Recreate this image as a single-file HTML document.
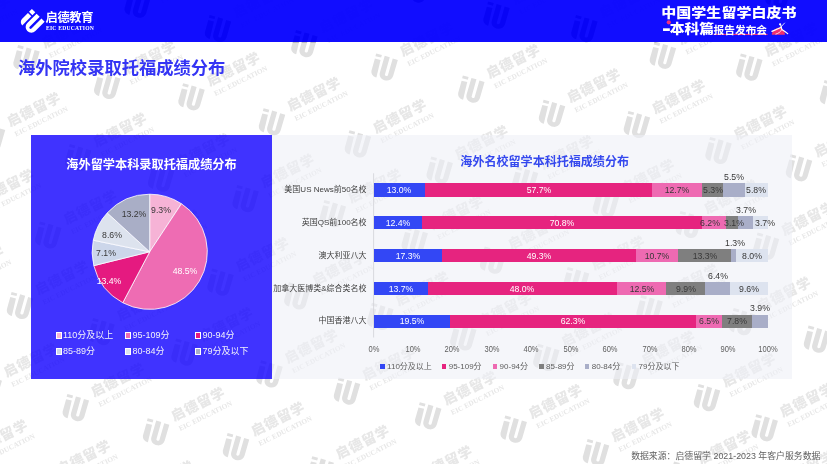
<!DOCTYPE html>
<html lang="zh-CN"><head><meta charset="utf-8"><title>海外院校录取托福成绩分布</title>
<style>
html,body{margin:0;padding:0;background:#fff;}
body{width:827px;height:464px;position:relative;overflow:hidden;font-family:"Liberation Sans","Noto Sans CJK SC",sans-serif;}
.abs{position:absolute;white-space:nowrap;}
#hdr{left:0;top:0;width:827px;height:42.3px;background:rgba(4,0,255,0.95);}
#title{left:18px;top:56px;font-size:17.3px;line-height:24px;font-weight:bold;color:#3434f4;letter-spacing:0px;}
#pL{left:31px;top:135px;width:240.7px;height:243.5px;background:rgba(16,0,255,0.8);}
#pR{left:271.7px;top:135px;width:520px;height:243.5px;background:rgba(238,239,246,0.58);}
.t12{font-size:12.18px;line-height:16px;font-weight:bold;text-align:center;}
.lab{font-size:9.7px;line-height:12px;color:#383838;text-align:center;transform:translate(-50%,-50%) scaleX(0.9);}
.cat{font-size:8px;line-height:12px;color:#404040;text-align:right;right:460.4px;transform:translateY(-50%);}
.ax{font-size:8.4px;line-height:10px;color:#5e5e5e;transform:translate(-50%,-50%) scaleX(0.9);}
.lg{font-size:8px;line-height:10px;color:#5e5e5e;transform:translateY(-50%);}
.lgp{font-size:9px;line-height:12px;color:#f2f2fa;transform:translateY(-50%);}
.seg{position:absolute;height:13.4px;}
svg{position:absolute;left:0;top:0;}
</style></head><body>

<svg width="827" height="464" viewBox="0 0 827 464" style="pointer-events:none">
<style>.wc{font-family:"Liberation Sans","Noto Sans CJK SC",sans-serif;font-weight:900;font-size:13.8px;letter-spacing:0.9px;fill:#e7e7e7}.hd,.hd text{fill:#5a5a5a}.we{font-family:"Liberation Serif",serif;font-weight:bold;font-size:7.2px;letter-spacing:0.05px;fill:#e7e7e7}</style>
<defs><g id="wm"><g transform="scale(0.06464) translate(-220,-242)">
<path d="M90,35L178,58L166,100L78,77Z"/>
<path d="M70,115L157,135L93,408C55,400 5,365 18,300Z"/>
<path d="M222,72L300,94L224,365Q238,398 270,375L346,112L425,135L352,385C335,440 285,460 240,455C170,445 130,390 147,330Z"/>
</g><g transform="rotate(-26.5)">
<text class="wc" x="20.5" y="-1.0">启德留学</text>
<text class="we" x="21.8" y="10.3">EIC EDUCATION</text>
</g></g></defs>
<g fill="#e0e0e0">
<use href="#wm" x="-58.1" y="39.8"/>
<use href="#wm" x="54.7" y="-16.4"/>
<use href="#wm" x="26.5" y="58.5"/>
<use href="#wm" x="137.7" y="4.1"/>
<use href="#wm" x="-8.0" y="137.0"/>
<use href="#wm" x="107.2" y="85.3"/>
<use href="#wm" x="218.0" y="28.3"/>
<use href="#wm" x="-34.7" y="213.7"/>
<use href="#wm" x="78.1" y="157.5"/>
<use href="#wm" x="191.5" y="96.6"/>
<use href="#wm" x="304.4" y="43.4"/>
<use href="#wm" x="416.5" y="-11.1"/>
<use href="#wm" x="-64.5" y="290.4"/>
<use href="#wm" x="48.3" y="234.8"/>
<use href="#wm" x="161.1" y="178.0"/>
<use href="#wm" x="272.0" y="121.6"/>
<use href="#wm" x="384.6" y="66.8"/>
<use href="#wm" x="496.5" y="15.0"/>
<use href="#wm" x="20.0" y="305.3"/>
<use href="#wm" x="131.3" y="254.7"/>
<use href="#wm" x="245.6" y="198.4"/>
<use href="#wm" x="357.9" y="143.7"/>
<use href="#wm" x="471.3" y="88.9"/>
<use href="#wm" x="584.4" y="28.4"/>
<use href="#wm" x="695.3" y="-26.3"/>
<use href="#wm" x="-11.3" y="387.6"/>
<use href="#wm" x="101.5" y="331.4"/>
<use href="#wm" x="220.5" y="282.0"/>
<use href="#wm" x="332.8" y="213.5"/>
<use href="#wm" x="439.7" y="170.0"/>
<use href="#wm" x="552.0" y="113.1"/>
<use href="#wm" x="662.9" y="55.1"/>
<use href="#wm" x="778.3" y="-5.8"/>
<use href="#wm" x="-41.1" y="464.3"/>
<use href="#wm" x="75.8" y="407.4"/>
<use href="#wm" x="184.5" y="351.9"/>
<use href="#wm" x="297.3" y="295.7"/>
<use href="#wm" x="414.7" y="240.2"/>
<use href="#wm" x="525.0" y="180.0"/>
<use href="#wm" x="636.9" y="124.3"/>
<use href="#wm" x="749.3" y="66.9"/>
<use href="#wm" x="41.9" y="484.8"/>
<use href="#wm" x="156.1" y="431.6"/>
<use href="#wm" x="269.5" y="373.7"/>
<use href="#wm" x="380.3" y="316.2"/>
<use href="#wm" x="493.1" y="260.0"/>
<use href="#wm" x="605.9" y="203.8"/>
<use href="#wm" x="718.5" y="150.3"/>
<use href="#wm" x="833.0" y="93.5"/>
<use href="#wm" x="124.9" y="505.3"/>
<use href="#wm" x="236.0" y="446.5"/>
<use href="#wm" x="347.0" y="390.9"/>
<use href="#wm" x="463.3" y="336.7"/>
<use href="#wm" x="576.1" y="280.5"/>
<use href="#wm" x="688.9" y="224.3"/>
<use href="#wm" x="799.0" y="167.6"/>
<use href="#wm" x="320.7" y="469.6"/>
<use href="#wm" x="428.2" y="415.6"/>
<use href="#wm" x="546.3" y="357.2"/>
<use href="#wm" x="649.6" y="308.5"/>
<use href="#wm" x="766.0" y="246.0"/>
<use href="#wm" x="403.7" y="490.1"/>
<use href="#wm" x="513.7" y="429.0"/>
<use href="#wm" x="626.5" y="375.5"/>
<use href="#wm" x="742.1" y="321.5"/>
<use href="#wm" x="854.9" y="265.3"/>
<use href="#wm" x="486.7" y="510.6"/>
<use href="#wm" x="596.0" y="452.4"/>
<use href="#wm" x="707.0" y="397.5"/>
<use href="#wm" x="817.0" y="339.0"/>
<use href="#wm" x="682.5" y="474.9"/>
<use href="#wm" x="764.7" y="427.6"/>
<use href="#wm" x="765.5" y="495.4"/>
</g>
<clipPath id="hc"><rect x="0" y="0" width="827" height="42.3"/></clipPath><g clip-path="url(#hc)" class="hd"><use href="#wm" x="-58.1" y="39.8"/><use href="#wm" x="54.7" y="-16.4"/><use href="#wm" x="26.5" y="58.5"/><use href="#wm" x="137.7" y="4.1"/><use href="#wm" x="218.0" y="28.3"/><use href="#wm" x="304.4" y="43.4"/><use href="#wm" x="416.5" y="-11.1"/><use href="#wm" x="384.6" y="66.8"/><use href="#wm" x="496.5" y="15.0"/><use href="#wm" x="584.4" y="28.4"/><use href="#wm" x="695.3" y="-26.3"/><use href="#wm" x="662.9" y="55.1"/><use href="#wm" x="778.3" y="-5.8"/><use href="#wm" x="749.3" y="66.9"/></g></svg>
<div class="abs" id="hdr"></div>
<svg width="827" height="45" viewBox="0 0 827 45">
<g transform="translate(31.6,22.0) rotate(45) scale(1.04)" fill="#fff">
<rect x="-8.68" y="-9.04" width="4.62" height="3.9"/>
<path d="M-8.68,-3.7H-4.06V8.7A4.62,4.62 0 0 1 -8.68,4.1Z"/>
<path d="M-2.28,-9.04V3.56A5.48,5.48 0 0 0 8.68,3.56V-9.04H4.4V4.6A1.2,1.2 0 0 1 2.0,4.6V-9.04Z"/>
</g>
<circle cx="668.8" cy="22.3" r="2.1" fill="#f0307a"/>
<rect x="713.5" y="33.9" width="54" height="1.1" fill="#f0307a"/>
<path d="M771.8,34.7C771.8,31 775.5,27.7 779.6,27.5C783,28.5 784.9,31.5 784.9,34.7Z" fill="#f0306e"/>
<g fill="none" stroke="#fff" stroke-linecap="round">
<path d="M771.9,31.3L780.8,27.5" stroke-width="1.3"/>
<path d="M775.9,34.1C778.5,33.4 780.6,31.8 781.7,29.8" stroke-width="0.8"/>
<path d="M780.9,25.6L781.8,29.4C783.5,30.4 786,32 787.7,33.6" stroke-width="1.2"/>
<path d="M781.3,26.6L784.5,23.1" stroke-width="0.8"/>
</g>
<circle cx="780.1" cy="24.3" r="1.15" fill="#fff"/>
</svg>
<div class="abs" style="left:45.6px;top:10.1px;font-size:12.2px;line-height:16px;font-weight:bold;color:#fff;letter-spacing:-0.3px;">启德教育</div>
<div class="abs" style="left:46px;top:24.9px;font-size:5.6px;line-height:7px;font-weight:bold;color:#fff;font-family:'Liberation Serif','Noto Serif CJK SC',serif;letter-spacing:0.22px;">EIC EDUCATION</div>
<div class="abs" style="left:661.2px;top:3.1px;font-size:15px;line-height:20px;font-weight:900;color:#fff;letter-spacing:0.05px;transform:scaleY(0.86);transform-origin:left center;">中国学生留学白皮书</div>
<div class="abs" style="left:661.5px;top:18.6px;font-size:14.8px;line-height:20px;font-weight:900;color:#fff;transform:scaleY(0.88);transform-origin:left center;"><span style="display:inline-block;transform:scale(1.8,1.7);transform-origin:left 62%;margin-right:3.2px;">-</span>本科篇</div>
<div class="abs" style="left:713.6px;top:21.6px;font-size:10.7px;line-height:16px;font-weight:bold;color:#fff;">报告发布会</div>
<div class="abs" id="title">海外院校录取托福成绩分布</div>
<div class="abs" id="pL"></div><div class="abs" id="pR"></div>
<div class="abs t12" style="left:31px;width:241px;top:156.6px;color:#fff;">海外留学本科录取托福成绩分布</div>
<div class="abs t12" style="left:444.7px;width:200px;top:153.6px;color:#3448ee;font-size:12.06px;">海外名校留学本科托福成绩分布</div>
<svg width="827" height="464" viewBox="0 0 827 464">
<path d="M149.70,251.80L149.70,194.20A57.60,57.60 0 0 1 181.45,203.74Z" fill="#f6b3d6" stroke="#fff" stroke-width="0.8" stroke-linejoin="round"/>
<path d="M149.70,251.80L181.45,203.74A57.60,57.60 0 0 1 122.77,302.72Z" fill="#ee6cb3" stroke="#fff" stroke-width="0.8" stroke-linejoin="round"/>
<path d="M149.70,251.80L122.77,302.72A57.60,57.60 0 0 1 93.80,265.67Z" fill="#e51a80" stroke="#fff" stroke-width="0.8" stroke-linejoin="round"/>
<path d="M149.70,251.80L93.80,265.67A57.60,57.60 0 0 1 93.28,240.22Z" fill="#ccd6ea" stroke="#fff" stroke-width="0.8" stroke-linejoin="round"/>
<path d="M149.70,251.80L93.28,240.22A57.60,57.60 0 0 1 107.25,212.87Z" fill="#dde3ee" stroke="#fff" stroke-width="0.8" stroke-linejoin="round"/>
<path d="M149.70,251.80L107.25,212.87A57.60,57.60 0 0 1 149.70,194.20Z" fill="#a9aec6" stroke="#fff" stroke-width="0.8" stroke-linejoin="round"/>
<line x1="373.6" y1="173.3" x2="373.6" y2="337.5" stroke="#d0d0d6" stroke-width="0.8"/>
</svg>
<div class="abs lab" style="left:160.9px;top:210.2px;color:#383838;">9.3%</div>
<div class="abs lab" style="left:184.7px;top:271.4px;color:#fff;">48.5%</div>
<div class="abs lab" style="left:108.7px;top:280.5px;color:#fff;">13.4%</div>
<div class="abs lab" style="left:105.6px;top:253.3px;color:#383838;">7.1%</div>
<div class="abs lab" style="left:111.7px;top:234.9px;color:#383838;">8.6%</div>
<div class="abs lab" style="left:133.7px;top:213.8px;color:#383838;">13.2%</div>
<div class="abs" style="left:55.6px;top:332.4px;width:4.2px;height:4.2px;background:#f6b3d6;border:0.6px solid #fff;"></div>
<div class="abs lgp" style="left:62.9px;top:335.3px;">110分及以上</div>
<div class="abs" style="left:125.3px;top:332.4px;width:4.2px;height:4.2px;background:#ee6cb3;border:0.6px solid #fff;"></div>
<div class="abs lgp" style="left:132.6px;top:335.3px;">95-109分</div>
<div class="abs" style="left:195.3px;top:332.4px;width:4.2px;height:4.2px;background:#e51a80;border:0.6px solid #fff;"></div>
<div class="abs lgp" style="left:202.6px;top:335.3px;">90-94分</div>
<div class="abs" style="left:55.6px;top:348.4px;width:4.2px;height:4.2px;background:#ccd6ea;border:0.6px solid #fff;"></div>
<div class="abs lgp" style="left:62.9px;top:351.3px;">85-89分</div>
<div class="abs" style="left:125.3px;top:348.4px;width:4.2px;height:4.2px;background:#dde3ee;border:0.6px solid #fff;"></div>
<div class="abs lgp" style="left:132.6px;top:351.3px;">80-84分</div>
<div class="abs" style="left:195.3px;top:348.4px;width:4.2px;height:4.2px;background:#a9aec6;border:0.6px solid #fff;"></div>
<div class="abs lgp" style="left:202.6px;top:351.3px;">79分及以下</div>
<div class="abs cat" style="top:190.2px;">美国US News前50名校</div>
<div class="seg" style="left:373.60px;top:183.3px;width:51.55px;background:#3347f5;"></div>
<div class="seg" style="left:424.85px;top:183.3px;width:227.75px;background:#e6247f;"></div>
<div class="seg" style="left:652.30px;top:183.3px;width:50.36px;background:#ee6ab2;"></div>
<div class="seg" style="left:702.36px;top:183.3px;width:21.19px;background:#7f7f7f;"></div>
<div class="seg" style="left:723.26px;top:183.3px;width:21.98px;background:#a9aec8;"></div>
<div class="seg" style="left:744.94px;top:183.3px;width:23.16px;background:#dde3ef;"></div>
<div class="abs cat" style="top:223.0px;">英国QS前100名校</div>
<div class="seg" style="left:373.60px;top:216.1px;width:49.18px;background:#3347f5;"></div>
<div class="seg" style="left:422.48px;top:216.1px;width:279.39px;background:#e6247f;"></div>
<div class="seg" style="left:701.57px;top:216.1px;width:24.74px;background:#ee6ab2;"></div>
<div class="seg" style="left:726.01px;top:216.1px;width:12.52px;background:#7f7f7f;"></div>
<div class="seg" style="left:738.24px;top:216.1px;width:14.89px;background:#a9aec8;"></div>
<div class="seg" style="left:752.82px;top:216.1px;width:14.89px;background:#dde3ef;"></div>
<div class="abs cat" style="top:255.8px;">澳大利亚八大</div>
<div class="seg" style="left:373.60px;top:248.9px;width:68.50px;background:#3347f5;"></div>
<div class="seg" style="left:441.80px;top:248.9px;width:194.64px;background:#e6247f;"></div>
<div class="seg" style="left:636.14px;top:248.9px;width:42.48px;background:#ee6ab2;"></div>
<div class="seg" style="left:678.32px;top:248.9px;width:52.73px;background:#7f7f7f;"></div>
<div class="seg" style="left:730.75px;top:248.9px;width:5.42px;background:#a9aec8;"></div>
<div class="seg" style="left:735.87px;top:248.9px;width:31.84px;background:#dde3ef;"></div>
<div class="abs cat" style="top:288.6px;">加拿大医博类&amp;综合类名校</div>
<div class="seg" style="left:373.60px;top:281.7px;width:54.31px;background:#3347f5;"></div>
<div class="seg" style="left:427.61px;top:281.7px;width:189.52px;background:#e6247f;"></div>
<div class="seg" style="left:616.82px;top:281.7px;width:49.57px;background:#ee6ab2;"></div>
<div class="seg" style="left:666.10px;top:281.7px;width:39.33px;background:#7f7f7f;"></div>
<div class="seg" style="left:705.12px;top:281.7px;width:25.53px;background:#a9aec8;"></div>
<div class="seg" style="left:730.35px;top:281.7px;width:38.14px;background:#dde3ef;"></div>
<div class="abs cat" style="top:321.4px;">中国香港八大</div>
<div class="seg" style="left:373.60px;top:314.5px;width:77.17px;background:#3347f5;"></div>
<div class="seg" style="left:450.47px;top:314.5px;width:245.89px;background:#e6247f;"></div>
<div class="seg" style="left:696.06px;top:314.5px;width:25.92px;background:#ee6ab2;"></div>
<div class="seg" style="left:721.68px;top:314.5px;width:31.05px;background:#7f7f7f;"></div>
<div class="seg" style="left:752.43px;top:314.5px;width:15.67px;background:#a9aec8;"></div>
<div class="abs lab" style="left:399.2px;top:190.2px;color:#fff;">13.0%</div>
<div class="abs lab" style="left:538.6px;top:190.2px;color:#fff;">57.7%</div>
<div class="abs lab" style="left:677.3px;top:190.2px;color:#383838;">12.7%</div>
<div class="abs lab" style="left:712.8px;top:190.2px;color:#383838;">5.3%</div>
<div class="abs lab" style="left:734.1px;top:177.1px;color:#383838;">5.5%</div>
<div class="abs lab" style="left:756.4px;top:190.2px;color:#383838;">5.8%</div>
<div class="abs lab" style="left:398.0px;top:223.0px;color:#fff;">12.4%</div>
<div class="abs lab" style="left:562.0px;top:223.0px;color:#fff;">70.8%</div>
<div class="abs lab" style="left:709.8px;top:223.0px;color:#383838;">6.2%</div>
<div class="abs lab" style="left:733.6px;top:223.0px;color:#383838;">3.1%</div>
<div class="abs lab" style="left:745.5px;top:209.9px;color:#383838;">3.7%</div>
<div class="abs lab" style="left:765.3px;top:223.0px;color:#383838;">3.7%</div>
<div class="abs lab" style="left:407.7px;top:255.8px;color:#fff;">17.3%</div>
<div class="abs lab" style="left:539.0px;top:255.8px;color:#fff;">49.3%</div>
<div class="abs lab" style="left:657.2px;top:255.8px;color:#383838;">10.7%</div>
<div class="abs lab" style="left:704.5px;top:255.8px;color:#383838;">13.3%</div>
<div class="abs lab" style="left:735.3px;top:242.7px;color:#383838;">1.3%</div>
<div class="abs lab" style="left:751.6px;top:255.8px;color:#383838;">8.0%</div>
<div class="abs lab" style="left:400.6px;top:288.6px;color:#fff;">13.7%</div>
<div class="abs lab" style="left:522.2px;top:288.6px;color:#fff;">48.0%</div>
<div class="abs lab" style="left:641.5px;top:288.6px;color:#383838;">12.5%</div>
<div class="abs lab" style="left:685.6px;top:288.6px;color:#383838;">9.9%</div>
<div class="abs lab" style="left:717.7px;top:275.5px;color:#383838;">6.4%</div>
<div class="abs lab" style="left:749.3px;top:288.6px;color:#383838;">9.6%</div>
<div class="abs lab" style="left:412.0px;top:321.4px;color:#fff;">19.5%</div>
<div class="abs lab" style="left:573.3px;top:321.4px;color:#fff;">62.3%</div>
<div class="abs lab" style="left:708.9px;top:321.4px;color:#383838;">6.5%</div>
<div class="abs lab" style="left:737.1px;top:321.4px;color:#383838;">7.8%</div>
<div class="abs lab" style="left:760.1px;top:308.3px;color:#383838;">3.9%</div>
<div class="abs ax" style="left:373.6px;top:348.8px;">0%</div>
<div class="abs ax" style="left:413.0px;top:348.8px;">10%</div>
<div class="abs ax" style="left:452.4px;top:348.8px;">20%</div>
<div class="abs ax" style="left:491.9px;top:348.8px;">30%</div>
<div class="abs ax" style="left:531.3px;top:348.8px;">40%</div>
<div class="abs ax" style="left:570.7px;top:348.8px;">50%</div>
<div class="abs ax" style="left:610.1px;top:348.8px;">60%</div>
<div class="abs ax" style="left:649.5px;top:348.8px;">70%</div>
<div class="abs ax" style="left:689.0px;top:348.8px;">80%</div>
<div class="abs ax" style="left:728.4px;top:348.8px;">90%</div>
<div class="abs ax" style="left:767.8px;top:348.8px;">100%</div>
<div class="abs" style="left:380.4px;top:364.2px;width:4.4px;height:4.4px;background:#3347f5;"></div>
<div class="abs lg" style="left:387.1px;top:366.8px;">110分及以上</div>
<div class="abs" style="left:442.0px;top:364.2px;width:4.4px;height:4.4px;background:#e6247f;"></div>
<div class="abs lg" style="left:448.7px;top:366.8px;">95-109分</div>
<div class="abs" style="left:492.9px;top:364.2px;width:4.4px;height:4.4px;background:#ee6ab2;"></div>
<div class="abs lg" style="left:499.6px;top:366.8px;">90-94分</div>
<div class="abs" style="left:539.4px;top:364.2px;width:4.4px;height:4.4px;background:#7f7f7f;"></div>
<div class="abs lg" style="left:546.1px;top:366.8px;">85-89分</div>
<div class="abs" style="left:585.0px;top:364.2px;width:4.4px;height:4.4px;background:#a9aec8;"></div>
<div class="abs lg" style="left:591.7px;top:366.8px;">80-84分</div>
<div class="abs" style="left:631.9px;top:364.2px;width:4.4px;height:4.4px;background:#dde3ef;"></div>
<div class="abs lg" style="left:638.6px;top:366.8px;">79分及以下</div>
<div class="abs" style="right:6.5px;top:449.6px;font-size:8.9px;line-height:12px;color:#606060;">数据来源：启德留学 2021-2023 年客户服务数据</div>
</body></html>
